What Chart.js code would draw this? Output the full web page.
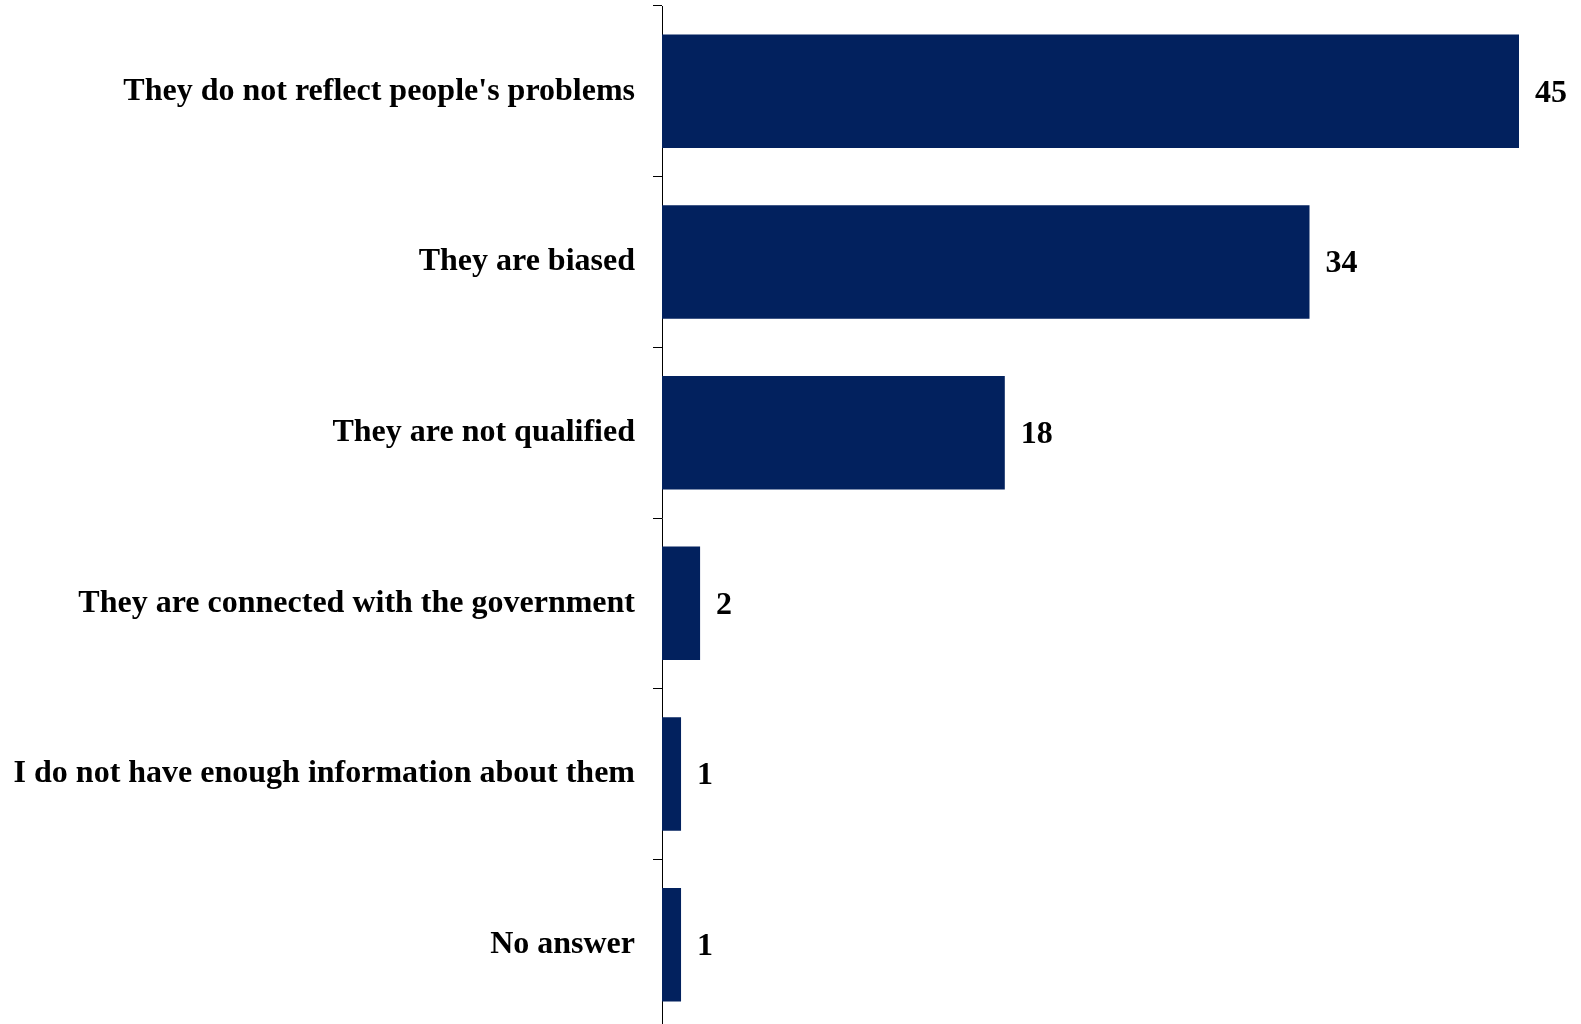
<!DOCTYPE html>
<html>
<head>
<meta charset="utf-8">
<script src="https://cdn.jsdelivr.net/npm/chart.js@4/dist/chart.umd.min.js"></script>
<style>
  html, body { margin: 0; padding: 0; background: #fff; overflow: hidden; }
  /* a bit taller than the window: the axis runs off the bottom edge */
  #wrap { width: 1581px; height: 1030px; position: relative; }
</style>
</head>
<body>
<div id="wrap"><canvas id="reasonsChart"></canvas></div>
<script>
// Reasons (percent)
const reasons = [
  "They do not reflect people's problems",
  'They are biased',
  'They are not qualified',
  'They are connected with the government',
  'I do not have enough information about them',
  'No answer'
];
const percents = [45, 34, 18, 2, 1, 1];

const fontFamily = '"Liberation Serif", "Times New Roman", serif';

// draw the value to the right of each bar
const valueLabels = {
  id: 'valueLabels',
  afterDatasetsDraw(chart) {
    const { ctx } = chart;
    const meta = chart.getDatasetMeta(0);
    ctx.save();
    ctx.font = `bold 32px ${fontFamily}`;
    ctx.fillStyle = '#000';
    ctx.textAlign = 'left';
    ctx.textBaseline = 'middle';
    meta.data.forEach((bar, i) => {
      ctx.fillText(String(percents[i]), bar.x + 16, bar.y + 2);
    });
    ctx.restore();
  }
};

const ctx = document.getElementById('reasonsChart').getContext('2d');
new Chart(ctx, {
  type: 'bar',
  data: {
    labels: reasons,
    datasets: [{
      data: percents,
      backgroundColor: '#02215E',
      borderWidth: 0,
      categoryPercentage: 1,
      barPercentage: 0.665
    }]
  },
  plugins: [valueLabels],
  options: {
    indexAxis: 'y',
    responsive: true,
    maintainAspectRatio: false,
    animation: false,
    layout: { padding: { top: 6, right: 62, bottom: 0, left: 0 } },
    plugins: {
      legend: { display: false },
      tooltip: { enabled: false }
    },
    scales: {
      x: {
        display: false,
        min: 0,
        max: 45
      },
      y: {
        afterFit(scale) {
          scale.width = 662;
          scale.paddingTop = 0;
          scale.paddingBottom = 0;
        },
        grid: {
          offset: true,
          drawOnChartArea: false,
          drawTicks: true,
          tickLength: 9,
          color: '#000'
        },
        border: { display: true, color: '#000', width: 1 },
        ticks: {
          color: '#000',
          padding: 18,
          font: { family: fontFamily, weight: 'bold', size: 32 }
        }
      }
    }
  }
});
</script>
</body>
</html>
